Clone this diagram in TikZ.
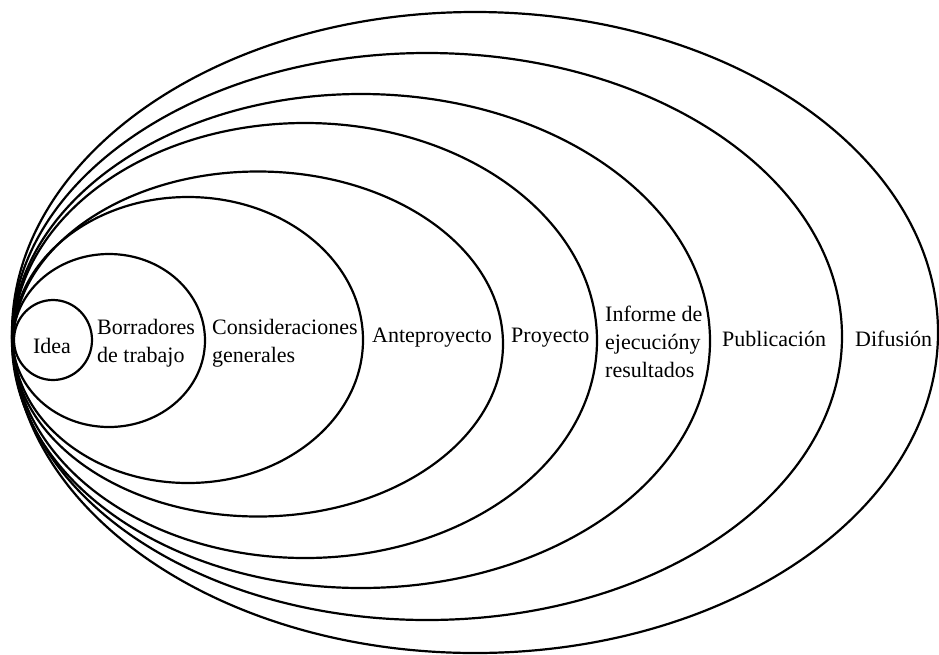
\documentclass[tikz,border=0pt]{standalone}
\usepackage{fontspec}
\setmainfont{Liberation Serif}
\usetikzlibrary{shapes.geometric}
\begin{document}
\begin{tikzpicture}[x=1pt,y=-1pt,
 ring/.style={draw, ellipse, line width=2.2pt, inner sep=0pt},
 lbl/.style={font=\fontsize{22}{28}\selectfont, inner sep=0pt, align=left, anchor=west}]
\useasboundingbox (0,0) rectangle (939,654);
\node[ring, minimum width=926pt, minimum height=641pt] (difusion) at (475,332.5) {};
\node[ring, minimum width=830pt, minimum height=567pt] (publicacion) at (427,336.5) {};
\node[ring, minimum width=698pt, minimum height=494pt] (informe) at (361,341) {};
\node[ring, minimum width=584pt, minimum height=435pt] (proyecto) at (305,340.5) {};
\node[ring, minimum width=490pt, minimum height=345pt] (anteproyecto) at (258,344) {};
\node[ring, minimum width=350pt, minimum height=286pt] (consideraciones) at (188,340) {};
\node[ring, minimum width=192pt, minimum height=173pt] (borradores) at (109,340.5) {};
\node[ring, minimum width=78pt, minimum height=80pt] (idea) at (53,340) {};

\node[lbl, anchor=center] (tidea) at (52,346) {Idea};
\node[lbl] (tborr) at (97,343) {Borradores\\de trabajo};
\node[lbl] (tcons) at (212,343) {Consideraciones\\generales};
\node[lbl] (tante) at (372,338) {Anteproyecto};
\node[lbl] (tproy) at (511,338) {Proyecto};
\node[lbl] (tinf) at (605,342) {Informe de\\ejecucióny\\resultados};
\node[lbl] (tpub) at (722,339) {Publicación};
\node[lbl] (tdif) at (855,339) {Difusión};
\end{tikzpicture}
\end{document}
